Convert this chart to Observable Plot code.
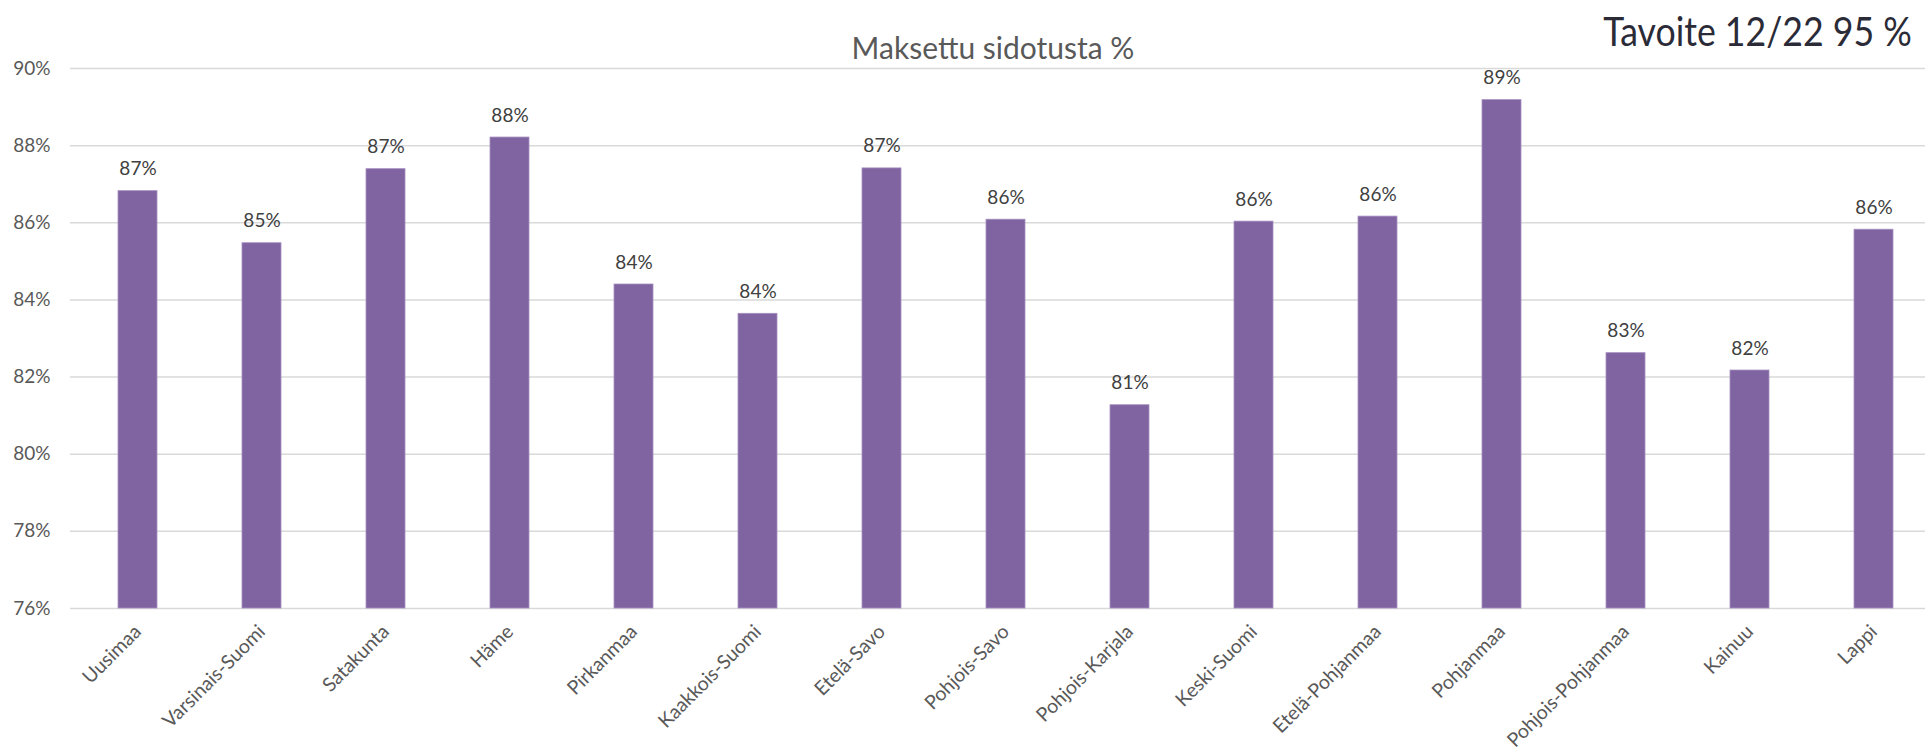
<!DOCTYPE html>
<html>
<head>
<meta charset="utf-8">
<script src="https://cdn.jsdelivr.net/npm/d3@7"></script>
<script src="https://cdn.jsdelivr.net/npm/@observablehq/plot@0.6"></script>
<style>
  html, body { margin: 0; padding: 0; background: #fff; }
  #wrap { position: relative; width: 1925px; height: 750px; overflow: hidden; font-family: Lato, "Open Sans", sans-serif; }
  #title { position: absolute; left: 0; width: 1986px; top: 32px; text-align: center; font-size: 30px; color: #595959; line-height: 1; }
  #goal { position: absolute; right: 13px; top: 10px; font-size: 41px; color: #2b2b38; line-height: 1; transform: scaleX(0.87); transform-origin: right center; white-space: nowrap; }
  #chart { position: absolute; left: 0; top: 0; }
</style>
</head>
<body>
<div id="wrap">
  <div id="chart"></div>
  <div id="title">Maksettu sidotusta %</div>
  <div id="goal">Tavoite 12/22 95 %</div>
</div>
<script>
const regions = ["Uusimaa", "Varsinais-Suomi", "Satakunta", "Häme", "Pirkanmaa", "Kaakkois-Suomi", "Etelä-Savo", "Pohjois-Savo", "Pohjois-Karjala", "Keski-Suomi", "Etelä-Pohjanmaa", "Pohjanmaa", "Pohjois-Pohjanmaa", "Kainuu", "Lappi"];
const values = [86.82, 85.47, 87.39, 88.21, 84.40, 83.64, 87.41, 86.08, 81.27, 86.03, 86.16, 89.18, 82.62, 82.17, 85.82];
const yTicks = [76, 78, 80, 82, 84, 86, 88, 90];

const data = regions.map((r, i) => ({region: r, value: values[i]}));
const textColor = "#595959";

const chart = Plot.plot({
  width: 1925,
  height: 750,
  marginLeft: 70,
  marginRight: 0,
  marginTop: 68,
  marginBottom: 142,
  style: {fontFamily: "Lato, 'Open Sans', sans-serif", fontSize: "18px", color: textColor, background: "transparent"},
  x: {domain: regions, range: [70.3, 1941.4], paddingInner: 0.684, paddingOuter: 0.342, label: null},
  y: {domain: [76, 90], label: null},
  marks: [
    Plot.ruleY(yTicks, {stroke: "#d9d9d9", strokeWidth: 1.5}),
    Plot.barY(data, {x: "region", y1: 76, y2: "value", fill: "#8064a2", stroke: "#a58fc0", strokeWidth: 0.8}),
    Plot.text(data, {x: "region", y: "value", text: d => Math.round(d.value) + "%", dy: -16, lineAnchor: "bottom", fill: "#404040", fontSize: 19}),
    Plot.axisY({ticks: yTicks, tickSize: 0, tickPadding: 20, tickFormat: d => d + "%", fill: textColor, fontSize: 19}),
    Plot.axisX({tickSize: 0, tickRotate: -45, tickPadding: 20, fill: textColor, fontSize: 19.5})
  ]
});
document.getElementById("chart").appendChild(chart);
</script>
</body>
</html>
